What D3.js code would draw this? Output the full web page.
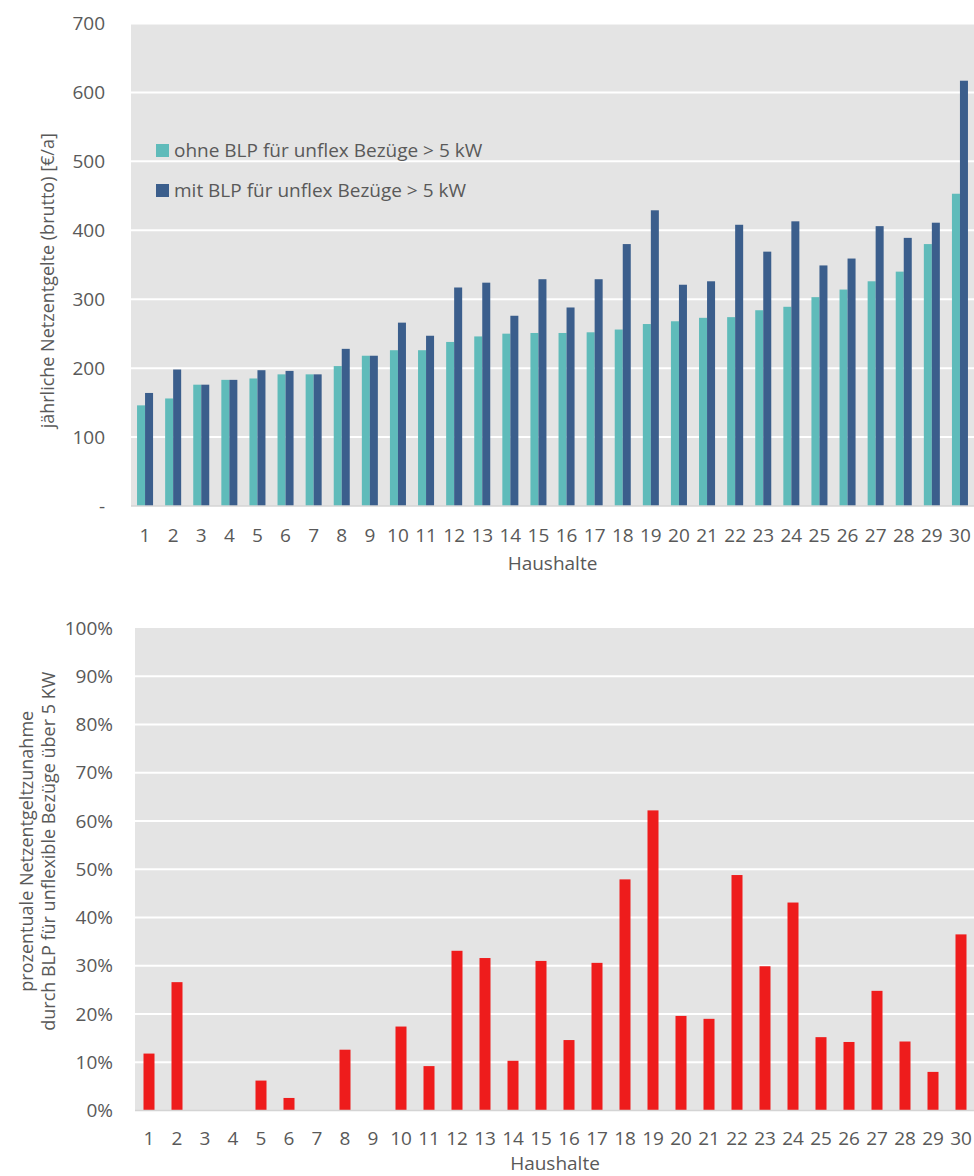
<!DOCTYPE html>
<html>
<head>
<meta charset="utf-8">
<script src="https://cdn.jsdelivr.net/npm/d3@7"></script>
<style>
  html, body { margin: 0; padding: 0; background: #ffffff; }
  svg { display: block; }
  text { font-family: "Open Sans", sans-serif; fill: #595959; }
</style>
</head>
<body>
<svg id="chart" width="974" height="1176"></svg>
<script>
// Haushalte 1..30
const households = d3.range(1, 31).map(String);

// jährliche Netzentgelte (brutto) in €/a
const withoutBLP = [146, 156, 176, 183, 185, 191, 191, 203, 218, 226,
                    226, 238, 246, 250, 251, 251, 252, 256, 264, 268,
                    273, 274, 284, 289, 303, 314, 326, 340, 380, 453];
const withBLP    = [164, 198, 176, 183, 197, 196, 191, 228, 218, 266,
                    247, 317, 324, 276, 329, 288, 329, 380, 429, 321,
                    326, 408, 369, 413, 349, 359, 406, 389, 411, 617];

// prozentuale Netzentgeltzunahme
const increasePct = [0.118, 0.266, 0, 0, 0.062, 0.026, 0, 0.126, 0, 0.174,
                     0.092, 0.331, 0.316, 0.103, 0.310, 0.146, 0.306, 0.479, 0.622, 0.196,
                     0.190, 0.488, 0.299, 0.431, 0.152, 0.142, 0.248, 0.143, 0.080, 0.365];

const topTicks = [0, 100, 200, 300, 400, 500, 600, 700];
const pctTicks = [0, 0.1, 0.2, 0.3, 0.4, 0.5, 0.6, 0.7, 0.8, 0.9, 1.0];

const seriesNames = ["ohne BLP für unflex Bezüge > 5 kW", "mit BLP für unflex Bezüge > 5 kW"];
const seriesColors = ["#5fbbba", "#3b5e8c"];
const pctColor = "#ee1c1c";

const svg = d3.select("#chart");
const FS = 19;

// ---------- oberes Diagramm: Netzentgelte ----------
const upper = { left: 131, right: 974, top: 23.5, bottom: 506 };

const x0 = d3.scaleBand().domain(households)
  .range([upper.left, upper.right]).paddingInner(0.43).paddingOuter(0.215);
const x1 = d3.scaleBand().domain([0, 1]).range([0, x0.bandwidth()]);
const y0 = d3.scaleLinear().domain([0, 700]).range([upper.bottom, upper.top]);

const g1 = svg.append("g");
g1.append("rect").attr("x", upper.left).attr("y", upper.top)
  .attr("width", upper.right - upper.left).attr("height", upper.bottom - upper.top)
  .attr("fill", "#e4e4e4");

g1.append("g").selectAll("line").data(topTicks.filter(d => d > 0)).join("line")
  .attr("x1", upper.left).attr("x2", upper.right)
  .attr("y1", d => y0(d)).attr("y2", d => y0(d))
  .attr("stroke", "#ffffff").attr("stroke-width", 2);

const rows1 = households.map((h, i) => ({ h, vals: [withoutBLP[i], withBLP[i]] }));
g1.append("g").selectAll("g").data(rows1).join("g")
  .attr("transform", d => `translate(${x0(d.h)},0)`)
  .selectAll("rect").data(d => d.vals.map((v, k) => ({ v, k }))).join("rect")
  .attr("x", d => x1(d.k)).attr("width", x1.bandwidth())
  .attr("y", d => y0(d.v)).attr("height", d => y0(0) - y0(d.v))
  .attr("fill", d => seriesColors[d.k]);

g1.append("line").attr("x1", upper.left).attr("x2", upper.right)
  .attr("y1", upper.bottom).attr("y2", upper.bottom)
  .attr("stroke", "#d4d4d4").attr("stroke-width", 1.5);

const yAxis1 = d3.axisLeft(y0).tickValues(topTicks)
  .tickFormat(d => d === 0 ? "-" : d3.format("d")(d)).tickSize(0).tickPadding(26);
g1.append("g").attr("transform", `translate(${upper.left},0)`).call(yAxis1)
  .call(g => g.select(".domain").remove())
  .call(g => g.selectAll("text").attr("font-size", FS).attr("font-family", null).attr("fill", "#595959"));

const xAxis1 = d3.axisBottom(x0).tickSize(0).tickPadding(22.5);
g1.append("g").attr("transform", `translate(0,${upper.bottom})`).call(xAxis1)
  .call(g => g.select(".domain").remove())
  .call(g => g.selectAll("text").attr("font-size", FS).attr("font-family", null).attr("fill", "#595959"));

g1.append("text").attr("x", (upper.left + upper.right) / 2).attr("y", 570)
  .attr("text-anchor", "middle").attr("font-size", FS).text("Haushalte");

g1.append("text")
  .attr("transform", `translate(54,${(upper.top + upper.bottom) / 2 + 16}) rotate(-90)`)
  .attr("text-anchor", "middle").attr("font-size", 18)
  .text("jährliche Netzentgelte (brutto) [€/a]");

// Legende
const legend = g1.append("g").selectAll("g").data(seriesNames).join("g")
  .attr("transform", (d, i) => `translate(156,${150.5 + i * 40})`);
legend.append("rect").attr("x", 0).attr("y", -6.5).attr("width", 13).attr("height", 13)
  .attr("fill", (d, i) => seriesColors[i]);
legend.append("text").attr("x", 18).attr("y", 0).attr("dy", "0.35em")
  .attr("font-size", FS).text(d => d);

// ---------- unteres Diagramm: prozentuale Zunahme ----------
const lower = { left: 135, right: 975, top: 628, bottom: 1110.5 };

const xb = d3.scaleBand().domain(households)
  .range([lower.left, lower.right]).paddingInner(0.607).paddingOuter(0.3035);
const yb = d3.scaleLinear().domain([0, 1]).range([lower.bottom, lower.top]);

const g2 = svg.append("g");
g2.append("rect").attr("x", lower.left).attr("y", lower.top)
  .attr("width", lower.right - lower.left).attr("height", lower.bottom - lower.top)
  .attr("fill", "#e4e4e4");

g2.append("g").selectAll("line").data(pctTicks.filter(d => d > 0 && d < 1)).join("line")
  .attr("x1", lower.left).attr("x2", lower.right)
  .attr("y1", d => yb(d)).attr("y2", d => yb(d))
  .attr("stroke", "#ffffff").attr("stroke-width", 2);

g2.append("g").selectAll("rect").data(households.map((h, i) => ({ h, v: increasePct[i] }))).join("rect")
  .attr("x", d => xb(d.h)).attr("width", xb.bandwidth())
  .attr("y", d => yb(d.v)).attr("height", d => yb(0) - yb(d.v))
  .attr("fill", pctColor);

g2.append("line").attr("x1", lower.left).attr("x2", lower.right)
  .attr("y1", lower.bottom).attr("y2", lower.bottom)
  .attr("stroke", "#d4d4d4").attr("stroke-width", 1.5);

const yAxis2 = d3.axisLeft(yb).tickValues(pctTicks)
  .tickFormat(d3.format(".0%")).tickSize(0).tickPadding(22);
g2.append("g").attr("transform", `translate(${lower.left},0)`).call(yAxis2)
  .call(g => g.select(".domain").remove())
  .call(g => g.selectAll("text").attr("font-size", FS).attr("font-family", null).attr("fill", "#595959"));

const xAxis2 = d3.axisBottom(xb).tickSize(0).tickPadding(21.5);
g2.append("g").attr("transform", `translate(0,${lower.bottom})`).call(xAxis2)
  .call(g => g.select(".domain").remove())
  .call(g => g.selectAll("text").attr("font-size", FS).attr("font-family", null).attr("fill", "#595959"));

g2.append("text").attr("x", (lower.left + lower.right) / 2).attr("y", 1170)
  .attr("text-anchor", "middle").attr("font-size", FS).text("Haushalte");

const yTitle2 = g2.append("text")
  .attr("transform", `translate(33,${(lower.top + lower.bottom) / 2 - 18}) rotate(-90)`)
  .attr("text-anchor", "middle").attr("font-size", 18);
yTitle2.append("tspan").attr("x", 0).attr("dy", 0).text("prozentuale Netzentgeltzunahme");
yTitle2.append("tspan").attr("x", 0).attr("dy", 22).text("durch BLP für unflexible Bezüge über 5 KW");
</script>
</body>
</html>
